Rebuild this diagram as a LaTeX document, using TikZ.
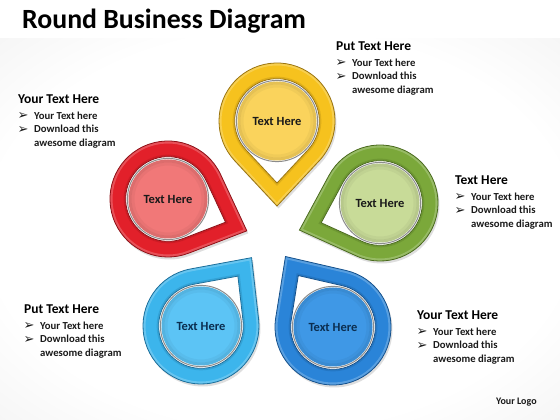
\documentclass[tikz,border=0pt]{standalone}
\usepackage{fontspec}
\setmainfont{Carlito}
\newfontfamily\dvfont{DejaVu Sans}
\definecolor{yring}{HTML}{F6C21E}
\definecolor{yedge}{HTML}{9A7410}
\definecolor{ydisc}{HTML}{FAD35C}
\definecolor{rring}{HTML}{E2202A}
\definecolor{redge}{HTML}{8E1016}
\definecolor{rdisc}{HTML}{F17878}
\definecolor{gring}{HTML}{7BA83A}
\definecolor{gedge}{HTML}{4A6A1E}
\definecolor{gdisc}{HTML}{C8DB98}
\definecolor{lring}{HTML}{3CB5EC}
\definecolor{ledge}{HTML}{1C6E9A}
\definecolor{ldisc}{HTML}{5CC4F5}
\definecolor{bring}{HTML}{2A84D8}
\definecolor{bedge}{HTML}{15518C}
\definecolor{bdisc}{HTML}{3F98E6}
\definecolor{darktxt}{HTML}{1A1A1A}
\definecolor{navytxt}{HTML}{0B2E50}
\pgfdeclareradialshading{bgshade}{\pgfpoint{0bp}{0bp}}{color(0bp)=(white); color(26bp)=(white); color(50bp)=(black!9); color(71bp)=(black!17)}
\tikzset{
  headtxt/.style={font=\bfseries\fontsize{13.5}{15}\selectfont, anchor=base west, inner sep=0pt, text=black},
  bultxt/.style={font=\bfseries\fontsize{10.7}{12}\selectfont, anchor=base west, inner sep=0pt, text=darktxt},
  arrtxt/.style={font=\dvfont\fontsize{13}{14}\selectfont, anchor=base west, inner sep=0pt, text=darktxt},
  disctxt/.style={font=\bfseries\fontsize{12.5}{14}\selectfont, inner sep=0pt},
  droppath/.style={insert path={(85*#1,0) -- (47:58*#1) arc[start angle=47,end angle=313,radius=58*#1] -- cycle}},
}
\newcommand\txtblock[4]{%
  \node[headtxt] (#1h) at (#2,#3) {#4};
  \node[arrtxt] (#1a1) at (#2-0.5,#3-16) {➢};
  \node[bultxt] (#1l1) at (#2+16,#3-15.5) {Your Text here};
  \node[arrtxt] (#1a2) at (#2-0.5,#3-29.5) {➢};
  \node[bultxt] (#1l2) at (#2+16,#3-29) {Download this};
  \node[bultxt] (#1l3) at (#2+16,#3-42.5) {awesome diagram};
}
\newcommand\dropshadow[3]{%
  \begin{scope}[shift={(#1+1.5,#2-2.5)},rotate=#3]
    \fill[black,opacity=0.13] [droppath=1];
  \end{scope}
}
\newcommand\dropshape[8]{%
  \begin{scope}[shift={(#2,#3)},rotate=#4]
    \fill[#5] [droppath=1];
    \begin{scope}
      \clip [droppath=1];
      \draw[white,opacity=0.22,line width=5] [droppath=1];
      \draw[#6,opacity=0.25,line width=4] [droppath=0.73];
    \end{scope}
    \draw[#6,line width=0.8] [droppath=1];
    \filldraw[fill=white,draw=#6,line width=0.8] [droppath=0.73];
  \end{scope}
  \fill[#7] (#2,#3) circle (39.5);
  \draw[#7!70!black,opacity=0.28,line width=3] (#2,#3) circle (38);
  \draw[#7!70!black,opacity=0.12,line width=3] (#2,#3) circle (35);
  \draw[black!45,line width=1] (#2,#3) circle (40.6);
  \node[disctxt,text=#8] (#1) at (#2,#3) {Text Here};
}
\begin{document}
\begin{tikzpicture}[x=1pt,y=1pt]
\useasboundingbox (0,0) rectangle (560,420);
\fill[white] (0,0) rectangle (560,420);
\shade[shading=bgshade] (0,0) rectangle (560,381);
% title
\node[font=\bfseries\fontsize{27.8}{30}\selectfont, anchor=base west, inner sep=0pt] (title) at (22,391) {Round Business Diagram};
% shadows
\dropshadow{277}{299}{-90}
\dropshadow{168}{221}{-22}
\dropshadow{380}{217}{198.6}
\dropshadow{201}{94}{53.5}
\dropshadow{333}{93}{124}
% drops
\dropshape{dy}{277}{299}{-90}{yring}{yedge}{ydisc}{darktxt}
\dropshape{dr}{168}{221}{-22}{rring}{redge}{rdisc}{darktxt}
\dropshape{dg}{380}{217}{198.6}{gring}{gedge}{gdisc}{darktxt}
\dropshape{dl}{201}{94}{53.5}{lring}{ledge}{ldisc}{navytxt}
\dropshape{db}{333}{93}{124}{bring}{bedge}{bdisc}{navytxt}
% text blocks
\txtblock{ta}{336}{369}{Put Text Here}
\txtblock{tb}{18}{316}{Your Text Here}
\txtblock{tc}{455}{235}{Text Here}
\txtblock{td}{24}{106}{Put Text Here}
\txtblock{te}{417}{100}{Your Text Here}
\node[font=\bfseries\fontsize{10}{12}\selectfont, anchor=base west, inner sep=0pt, text=darktxt] (logo) at (496,15) {Your Logo};
\end{tikzpicture}
\end{document}
